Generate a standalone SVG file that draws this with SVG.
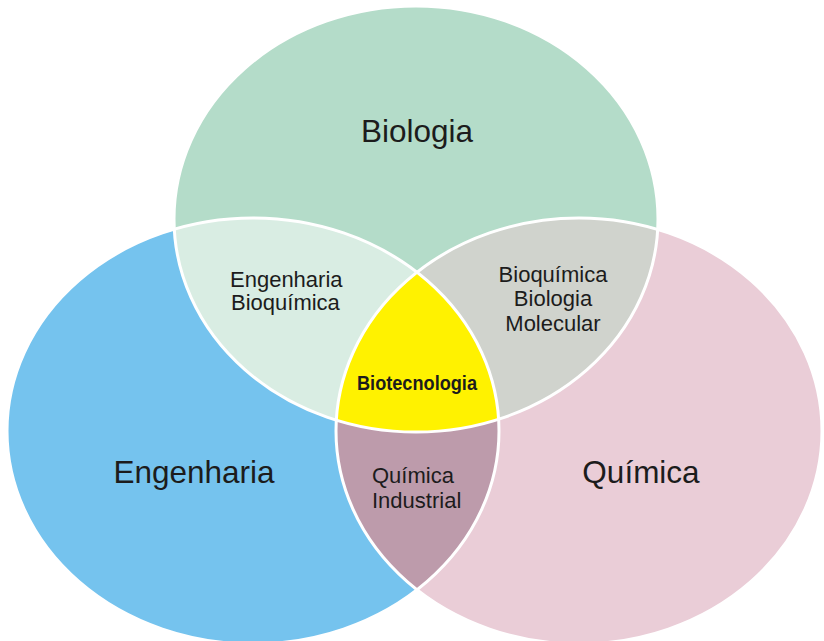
<svg xmlns="http://www.w3.org/2000/svg" width="824" height="641" viewBox="0 0 824 641">
<style>
  .lbl{font-family:"Liberation Sans",Arial,sans-serif;fill:#1c1c1c}
  .big{font-size:31.5px;text-anchor:middle}
  .mid{font-size:22px}
  .ctr{text-anchor:middle}
  .edge{fill:none;stroke:#ffffff;stroke-width:3}
</style>
<defs>
  <ellipse id="eT" cx="416" cy="219" rx="242" ry="213"/>
  <ellipse id="eL" cx="253" cy="431" rx="246" ry="213"/>
  <ellipse id="eR" cx="579" cy="431" rx="243" ry="213"/>
  <clipPath id="cT"><use href="#eT"/></clipPath>
  <clipPath id="cL"><use href="#eL"/></clipPath>
  <clipPath id="cR"><use href="#eR"/></clipPath>
</defs>
<rect width="824" height="641" fill="#ffffff"/>
<g id="biologia">
  <use href="#eT" fill="#b4dcc9"/>
</g>
<g id="engenharia">
  <use href="#eL" fill="#75c3ee"/>
</g>
<g id="quimica">
  <use href="#eR" fill="#eacdd7"/>
</g>
<g id="engenharia-bioquimica">
  <use href="#eL" fill="#d9ede3" clip-path="url(#cT)"/>
</g>
<g id="bioquimica-biologia-molecular">
  <use href="#eR" fill="#d0d3cd" clip-path="url(#cT)"/>
</g>
<g id="quimica-industrial">
  <use href="#eR" fill="#bd9bab" clip-path="url(#cL)"/>
</g>
<g id="biotecnologia">
  <g clip-path="url(#cL)"><use href="#eT" fill="#fff200" clip-path="url(#cR)"/></g>
</g>
<g id="connectors">
  <use href="#eT" class="edge"/>
  <use href="#eL" class="edge"/>
  <use href="#eR" class="edge"/>
</g>
<g id="labels">
  <text class="lbl big" x="417" y="142">Biologia</text>
  <text class="lbl big" x="194" y="483">Engenharia</text>
  <text class="lbl big" x="641" y="483">Química</text>
  <text class="lbl mid" x="230" y="287">Engenharia</text>
  <text class="lbl mid" x="231" y="310">Bioquímica</text>
  <text class="lbl mid ctr" x="553" y="282">Bioquímica</text>
  <text class="lbl mid ctr" x="553" y="306">Biologia</text>
  <text class="lbl mid ctr" x="553" y="331">Molecular</text>
  <text class="lbl" x="357" y="390" font-size="20.5" font-weight="bold" textLength="120" lengthAdjust="spacingAndGlyphs">Biotecnologia</text>
  <text class="lbl mid" x="372" y="483">Química</text>
  <text class="lbl mid" x="372" y="508">Industrial</text>
</g>
</svg>
